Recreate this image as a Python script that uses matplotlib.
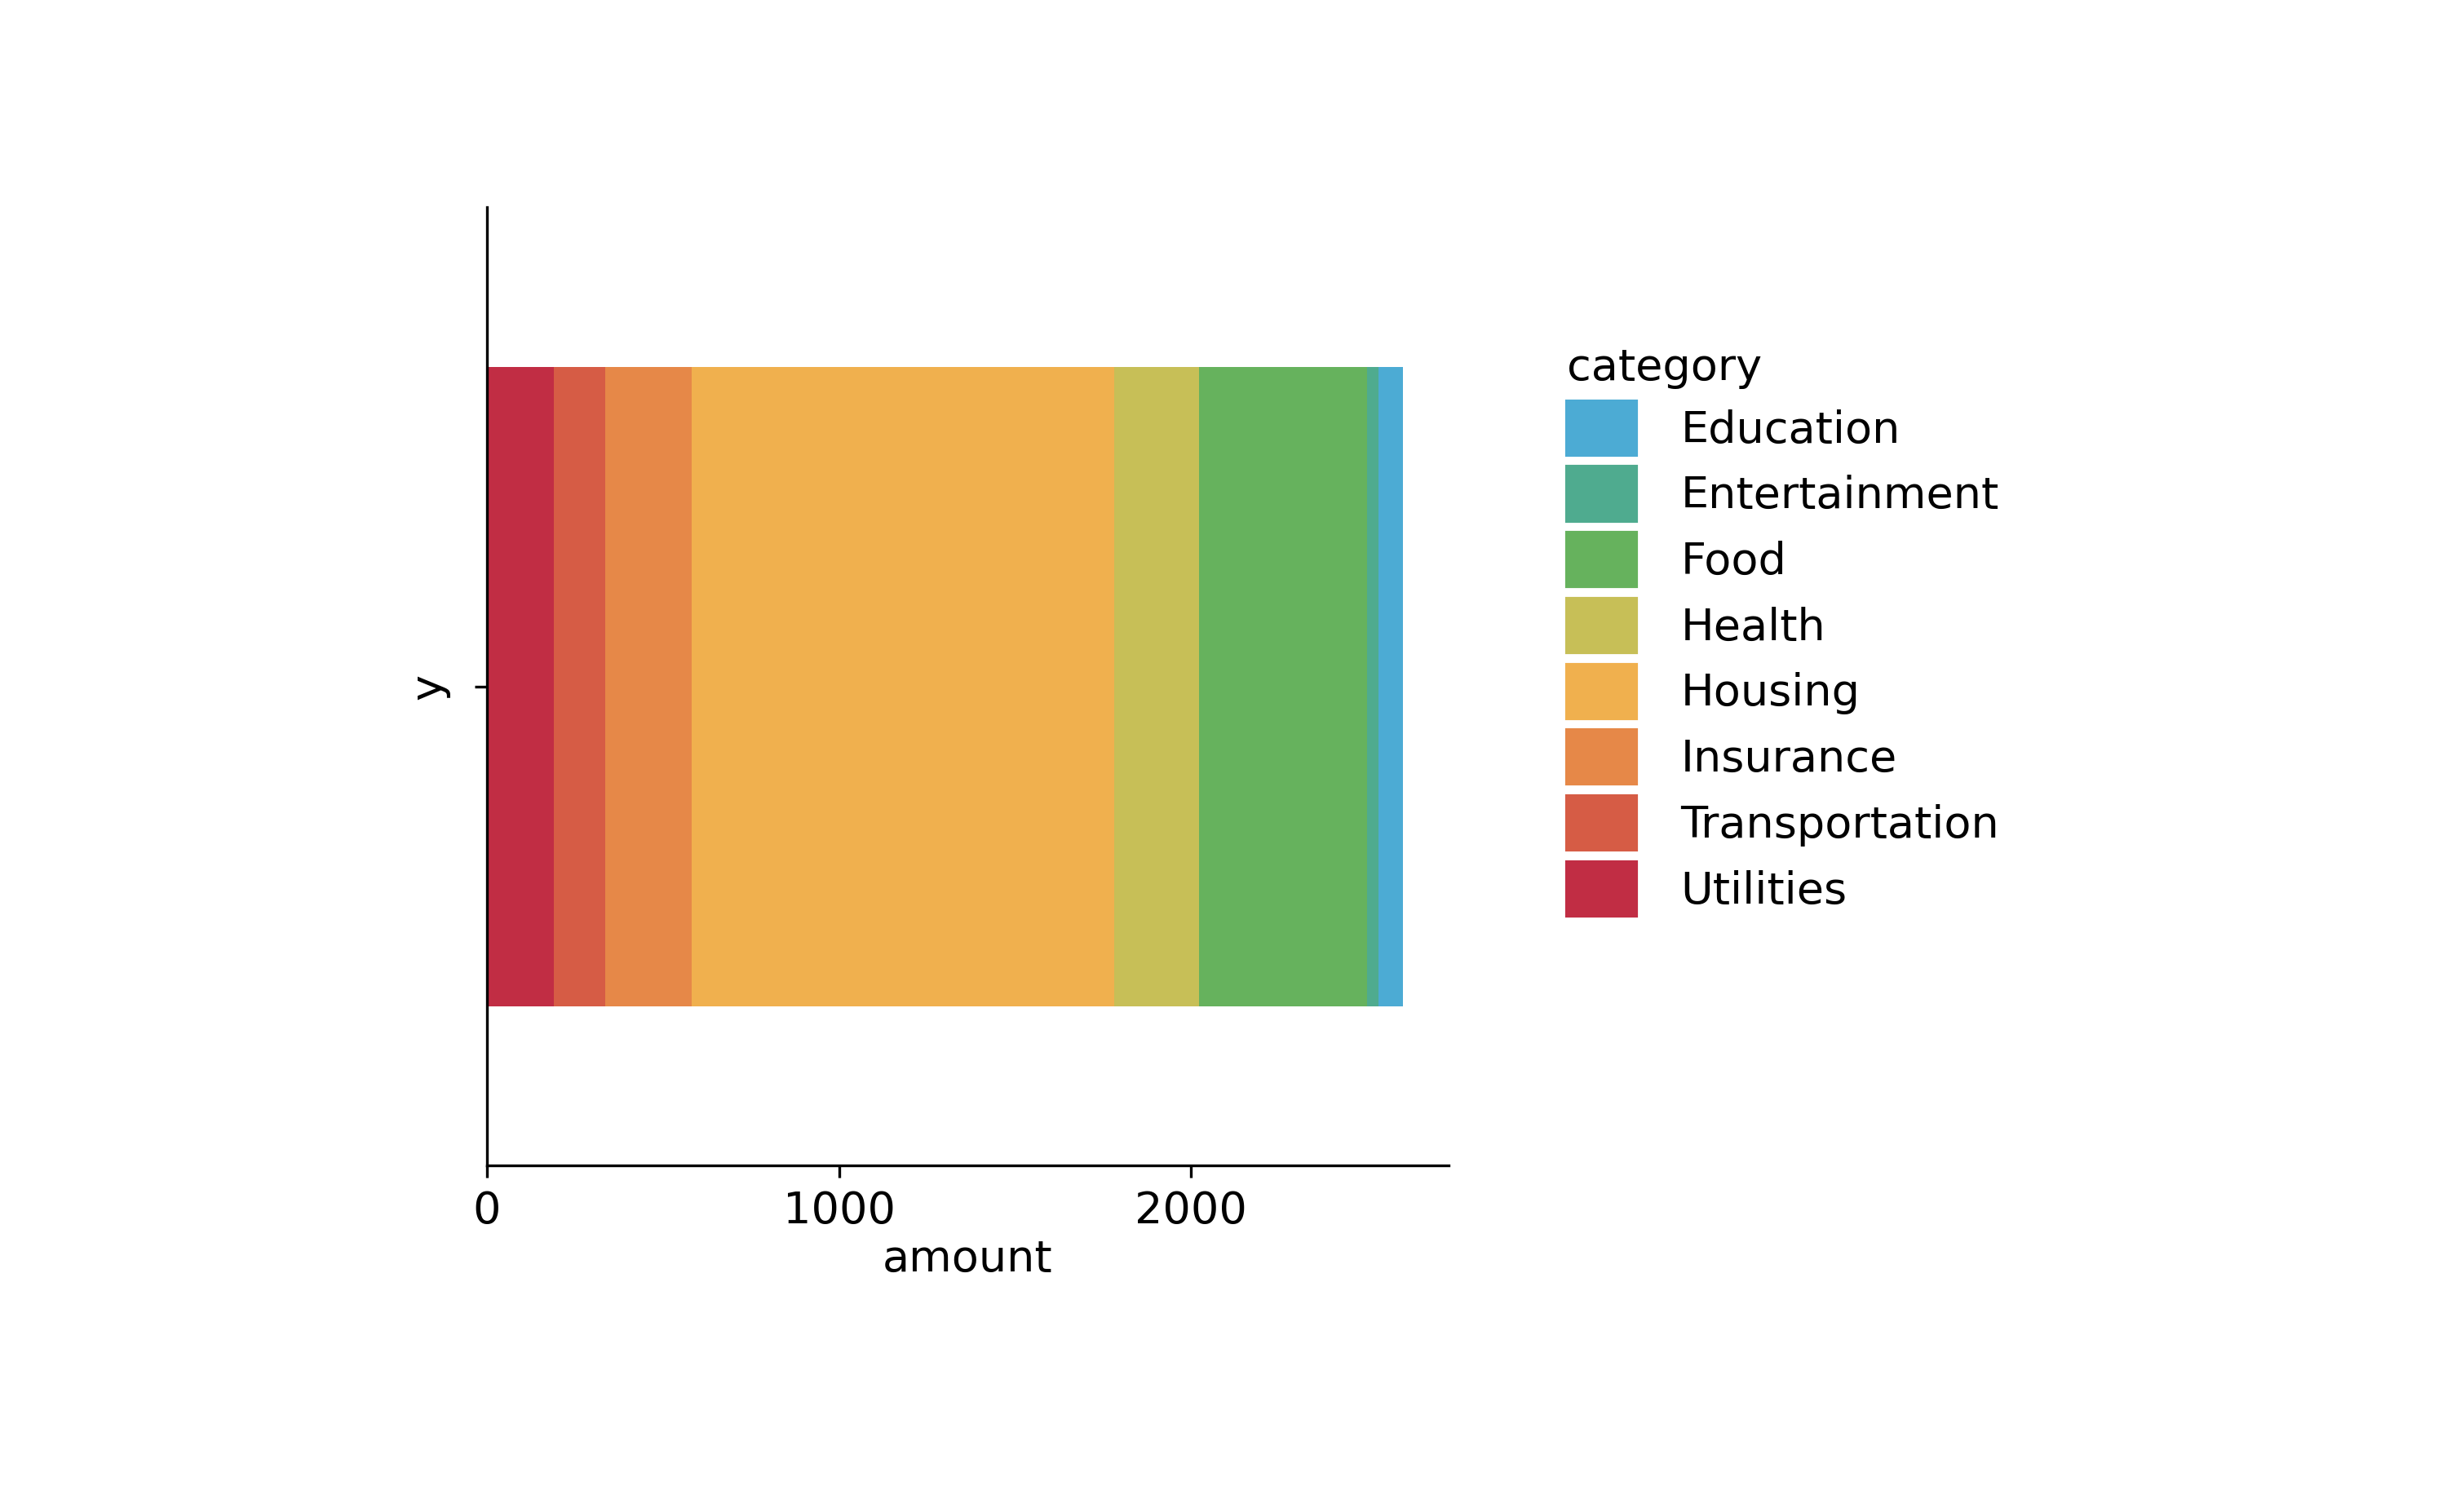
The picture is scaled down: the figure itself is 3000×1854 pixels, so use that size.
import matplotlib
matplotlib.use("Agg")
import matplotlib.pyplot as plt
import matplotlib.patches as mpatches

# stacking order (left to right)
categories = ["Utilities", "Transportation", "Insurance", "Housing",
              "Health", "Food", "Entertainment", "Education"]
amounts = [190, 147, 244, 1202, 239, 479, 31, 71]
colors = ["#c12d44", "#d65c45", "#e68848", "#f0b04e",
          "#c7bf57", "#66b25d", "#4fab8f", "#4cabd4"]

plt.rcParams["font.family"] = ["DejaVu Sans"]
plt.rcParams["font.size"] = 13

fig = plt.figure(figsize=(10, 6.18), dpi=300)
ax = fig.add_axes([0.199, 0.229, 0.393, 0.634])

left = 0
for cat, amt, col in zip(categories, amounts, colors):
    ax.barh(0, amt, left=left, height=0.8, color=col, label=cat)
    left += amt

ax.set_xlim(0, 2732)
ax.set_ylim(-0.6, 0.6)
ax.set_xticks([0, 1000, 2000])
ax.set_yticks([0])
ax.set_yticklabels([""])
ax.set_xlabel("amount", labelpad=2)
ax.set_ylabel("y")
for s in ["top", "right"]:
    ax.spines[s].set_visible(False)

handles = [mpatches.Patch(color=c, label=n) for n, c in zip(categories, colors)][::-1]
leg = fig.legend(handles=handles, title="category", loc="upper left",
                 bbox_to_anchor=(0.624, 0.797), frameon=False,
                 handlelength=1.58, handleheight=1.5, labelspacing=0.27,
                 handletextpad=1.0, alignment="left", title_fontsize=13)

fig.savefig("out.png", dpi=300, facecolor="white")
